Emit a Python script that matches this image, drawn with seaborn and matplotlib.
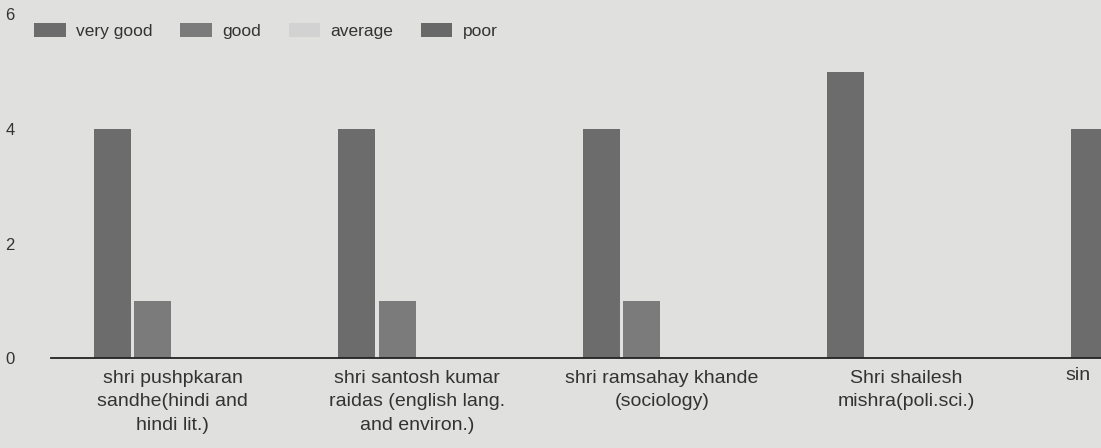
import numpy as np
import pandas as pd
import seaborn as sns
from matplotlib import pyplot as plt

# faculty (the fifth one is cut off at the right edge of the page)
teachers = [
    "shri pushpkaran\nsandhe(hindi and\nhindi lit.)",
    "shri santosh kumar\nraidas (english lang.\nand environ.)",
    "shri ramsahay khande\n(sociology)",
    "Shri shailesh\nmishra(poli.sci.)",
    "sin",
]
ratings = ["very good", "good", "average", "poor"]

very_good = [4, 4, 4, 5, 4]
good = [1, 1, 1, 0, 0]
average = [0, 0, 0, 0, 0]
poor = [0, 0, 0, 0, 0]

y_ticks = [0, 2, 4, 6]

colors = ["#6c6c6c", "#7b7b7b", "#d2d2d2", "#686868"]
paper = "#e0e0de"
ink = "#333333"

df = pd.DataFrame({
    "teacher": np.repeat(teachers, len(ratings)),
    "rating": ratings * len(teachers),
    "count": np.ravel(np.column_stack([very_good, good, average, poor])),
})

sns.set_theme(style="white")
plt.rcParams["font.family"] = ["Liberation Sans", "DejaVu Sans"]

fig = plt.figure(figsize=(11.01, 4.48), dpi=100, facecolor=paper)
# axes run past the right edge, like the cropped page
ax = fig.add_axes([0.046, 0.2, 1.11, 0.768])
ax.set_facecolor(paper)

sns.barplot(data=df, x="teacher", y="count", hue="rating",
            hue_order=ratings, palette=colors, width=0.66, gap=0.08,
            saturation=1, linewidth=0, edgecolor="none", ax=ax)

ax.set_xlim(-0.5, 4.5)
ax.set_ylim(0, 6)
ax.set_yticks(y_ticks)
ax.set_xlabel("")
ax.set_ylabel("")
for side in ["left", "right", "top"]:
    ax.spines[side].set_visible(False)
ax.spines["bottom"].set_color("#222222")
ax.spines["bottom"].set_linewidth(1.3)

ax.tick_params(axis="y", length=0, pad=26, labelsize=12, labelcolor=ink)
ax.tick_params(axis="x", length=0, pad=8, labelsize=14, labelcolor=ink)
ax.set_xticks(range(len(teachers)))
ax.set_xticklabels(teachers[:-1] + [""], linespacing=1.5)

# only the start of the last name is visible on the page
ax.annotate(teachers[-1], xy=(4, 0), xycoords=("data", "axes fraction"),
            xytext=(-61, -6), textcoords="offset points",
            ha="left", va="top", fontsize=14, color=ink)

ax.legend(loc="upper left", bbox_to_anchor=(0.025, 0.965),
          bbox_transform=fig.transFigure, ncol=4, frameon=False,
          fontsize=12.5, handlelength=1.8, handleheight=0.9,
          handletextpad=0.6, columnspacing=1.6, borderaxespad=0,
          labelcolor=ink)

fig.savefig("out.png", dpi=100, facecolor=paper)
